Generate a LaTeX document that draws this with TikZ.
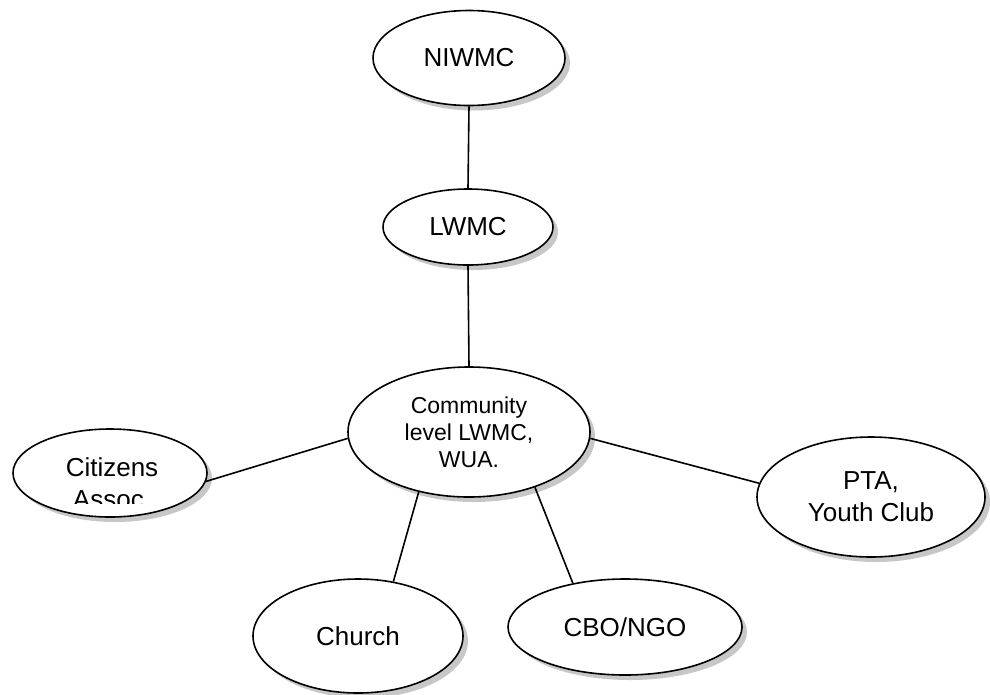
\documentclass[tikz,border=0pt]{standalone}
\usepackage{fontspec}
\setmainfont{Liberation Sans}
\usetikzlibrary{shapes.geometric,shadows}
\begin{document}
\begin{tikzpicture}[x=1pt,y=-1pt,
  bub/.style={ellipse, draw=black, line width=1.6pt, fill=white, inner sep=0pt,
    align=center, font=\fontsize{26}{32}\selectfont,
    drop shadow={shadow xshift=5pt, shadow yshift=-5pt, fill=black!22, opacity=1}},
  link/.style={draw=black, line width=1.6pt}]
\useasboundingbox (0,0) rectangle (990,694);
\node[bub, minimum width=192pt, minimum height=95pt] (niw) at (469,58) {NIWMC};
\node[bub, minimum width=170pt, minimum height=76pt] (lw) at (468,227) {LWMC};
\node[bub, minimum width=242pt, minimum height=130pt, font=\fontsize{23}{27}\selectfont] (com) at (469,432) {Community\\level LWMC,\\WUA.};
\node[bub, minimum width=194pt, minimum height=88pt] (cit) at (110,473) {};
\begin{scope}
  \clip (0,0) rectangle (990,503);
  \node[align=center, font=\fontsize{26}{32}\selectfont, inner sep=0pt] (cittext) at (112,483) {Citizens\\Assoc.};
\end{scope}
\node[bub, minimum width=228pt, minimum height=120pt] (pta) at (871,497) {PTA,\\Youth Club};
\node[bub, minimum width=210pt, minimum height=114pt] (chu) at (358,636) {Church};
\node[bub, minimum width=234pt, minimum height=96pt] (cbo) at (625,627) {CBO/NGO};
\draw[link] (niw.south) -- (lw.north);
\draw[link] (lw.south) -- (com.north);
\draw[link] (com.183) -- (cit.-5);
\draw[link] (com.-3) -- (pta.173);
\draw[link] (com.-130) -- (chu.57);
\draw[link] (com.-40) -- (cbo.140);
\end{tikzpicture}
\end{document}
